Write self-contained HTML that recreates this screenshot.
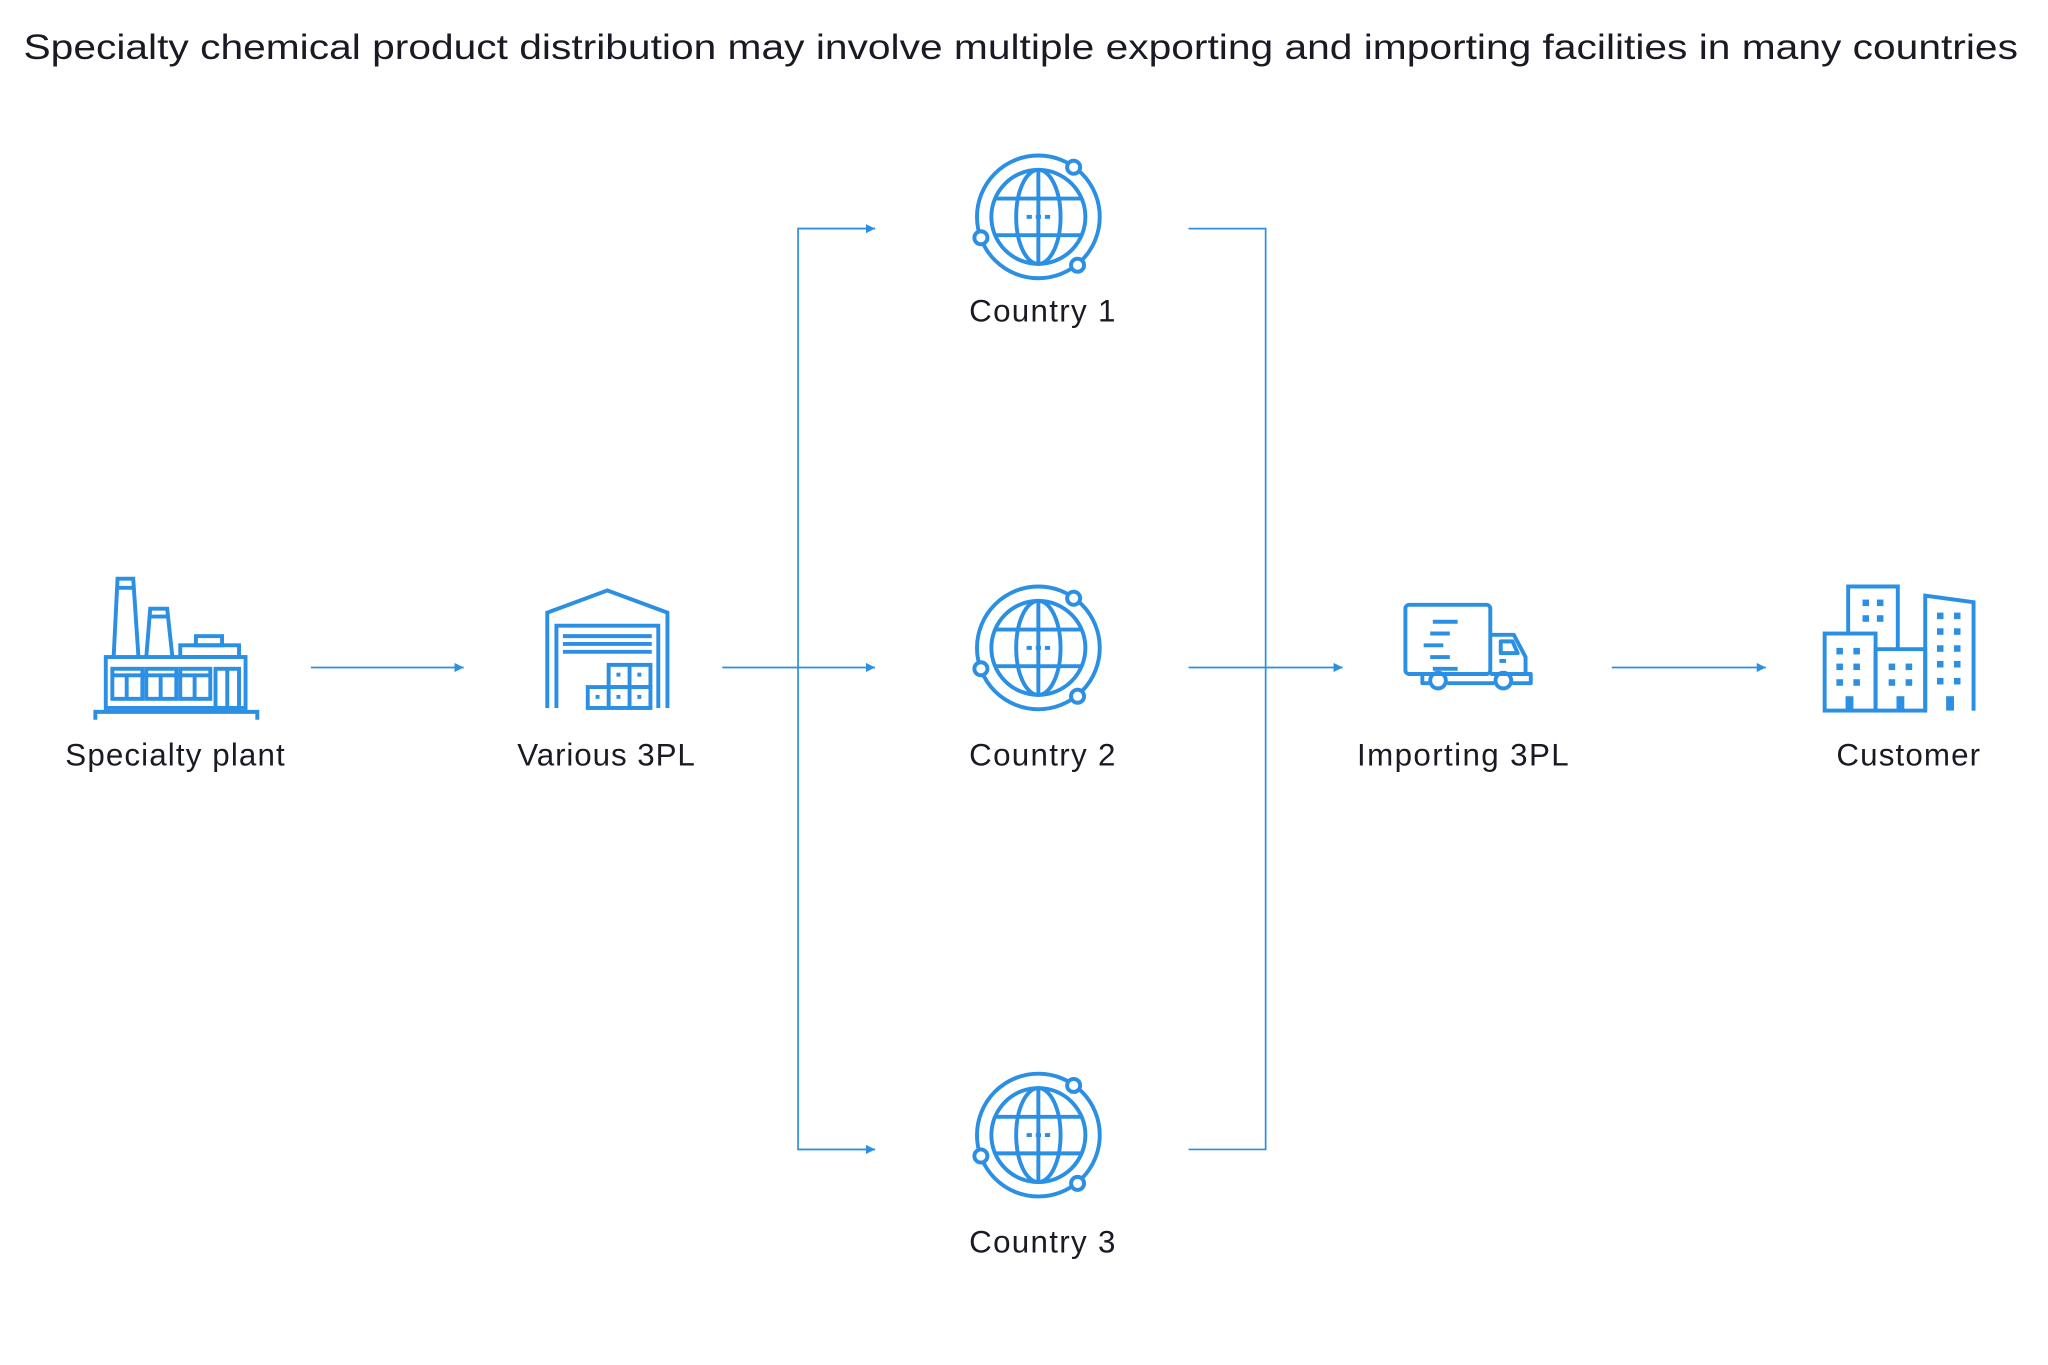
<!DOCTYPE html>
<html><head><meta charset="utf-8"><style>
html,body{margin:0;padding:0;background:#fff;}
svg{display:block;}
text{font-family:"Liberation Sans",sans-serif;fill:#1a1a24;}
</style></head><body>
<svg width="2048" height="1365" viewBox="0 0 1568 1045" xmlns="http://www.w3.org/2000/svg">
<defs>
<marker id="ah" viewBox="0 0 10 10" refX="10" refY="5" markerWidth="7" markerHeight="7" markerUnits="userSpaceOnUse" orient="auto"><path d="M0,0 L10,5 L0,10z" fill="#2b8fe3"/></marker>
<g id="globe" fill="none" stroke="#2b8fe3" stroke-width="3">
<circle r="47"/>
<circle r="36"/>
<ellipse rx="17" ry="36"/>
<line x1="0" y1="-36" x2="0" y2="36"/>
<line x1="-33" y1="-14" x2="33" y2="-14"/>
<line x1="-33" y1="14" x2="33" y2="14"/>
<line x1="-9" y1="0" x2="-5" y2="0"/><line x1="-2" y1="0" x2="2" y2="0"/><line x1="5" y1="0" x2="9" y2="0"/>
<circle cx="27" cy="-38" r="5" fill="#fff"/>
<circle cx="-44" cy="16" r="5" fill="#fff"/>
<circle cx="30" cy="37" r="5" fill="#fff"/>
</g>
</defs>

<text x="18" y="45" font-size="27" textLength="1527" lengthAdjust="spacingAndGlyphs">Specialty chemical product distribution may involve multiple exporting and importing facilities in many countries</text>

<g stroke="#2b8fe3" stroke-width="1.3" fill="none">
<line x1="238" y1="511" x2="355" y2="511" marker-end="url(#ah)"/>
<line x1="553" y1="511" x2="670" y2="511" marker-end="url(#ah)"/>
<polyline points="670,175 611,175 611,880 670,880"/>
<line x1="611" y1="175" x2="670" y2="175" marker-end="url(#ah)"/>
<line x1="611" y1="880" x2="670" y2="880" marker-end="url(#ah)"/>
<polyline points="910,175 969,175 969,880 910,880"/>
<line x1="910" y1="511" x2="1028" y2="511" marker-end="url(#ah)"/>
<line x1="1234" y1="511" x2="1352" y2="511" marker-end="url(#ah)"/>
</g>

<use href="#globe" x="795" y="166"/>
<use href="#globe" x="795" y="496"/>
<use href="#globe" x="795" y="869"/>

<!-- factory -->
<g fill="none" stroke="#2b8fe3" stroke-width="3">
<path d="M87,503 L90,443 L102,443 L106,503"/><line x1="89" y1="450" x2="103" y2="450"/>
<path d="M112,503 L115,466 L128,466 L132,503"/><line x1="114" y1="472" x2="129" y2="472"/>
<rect x="138" y="494" width="45" height="9"/><rect x="150" y="487" width="20" height="7"/>
<rect x="81" y="503" width="107" height="39"/>
<rect x="86" y="512" width="23" height="23"/><rect x="112" y="512" width="23" height="23"/><rect x="138" y="512" width="23" height="23"/>
<line x1="86" y1="517" x2="161" y2="517"/>
<line x1="97" y1="517" x2="97" y2="535"/><line x1="123" y1="517" x2="123" y2="535"/><line x1="149" y1="517" x2="149" y2="535"/>
<rect x="165" y="512" width="18" height="30"/><line x1="174" y1="512" x2="174" y2="542"/>
<path d="M73,551 L73,545 L197,545 L197,551"/>
</g>

<!-- warehouse -->
<g fill="none" stroke="#2b8fe3" stroke-width="3">
<path d="M419,542 L419,469 L465,452 L511,469 L511,542"/>
<path d="M426,542 L426,479 L504,479 L504,542"/>
<line x1="431" y1="487" x2="499" y2="487"/><line x1="431" y1="493" x2="499" y2="493"/><line x1="431" y1="499" x2="499" y2="499"/>
<rect x="466" y="509" width="32" height="17"/><line x1="482" y1="509" x2="482" y2="542"/>
<rect x="450" y="526" width="48" height="16"/><line x1="466" y1="526" x2="466" y2="542"/>
</g>
<g fill="#2b8fe3"><rect x="472" y="515" width="3" height="3"/><rect x="488" y="515" width="3" height="3"/><rect x="456" y="532" width="3" height="3"/><rect x="472" y="532" width="3" height="3"/><rect x="488" y="532" width="3" height="3"/></g>

<!-- truck -->
<g fill="none" stroke="#2b8fe3" stroke-width="3" stroke-linejoin="round">
<rect x="1076" y="463" width="65" height="53" rx="3"/>
<path d="M1141,486 L1159,486 L1168,503 L1168,516 L1141,516"/>
<path d="M1149,491 L1158,491 L1162,500 L1149,500z"/>
<line x1="1148" y1="506" x2="1153" y2="506"/>
<path d="M1089,516 L1089,523 L1094,523"/><path d="M1108,523 L1144,523"/><path d="M1158,523 L1172,523 L1172,516 L1166,516"/>
<circle cx="1101" cy="521" r="6"/><circle cx="1151" cy="521" r="6"/>
<line x1="1097" y1="476" x2="1116" y2="476"/><line x1="1095" y1="485" x2="1110" y2="485"/><line x1="1090" y1="494" x2="1105" y2="494"/><line x1="1095" y1="503" x2="1110" y2="503"/><line x1="1097" y1="512" x2="1116" y2="512"/>
</g>

<!-- buildings -->
<g fill="none" stroke="#2b8fe3" stroke-width="3">
<rect x="1397" y="485" width="39" height="59"/>
<path d="M1415,485 L1415,449 L1453,449 L1453,497"/>
<rect x="1436" y="497" width="38" height="47"/>
<path d="M1474,544 L1474,456 L1511,461 L1511,544"/>
</g>
<g fill="#2b8fe3">
<rect x="1426" y="459" width="5" height="5"/><rect x="1437" y="459" width="5" height="5"/><rect x="1426" y="471" width="5" height="5"/><rect x="1437" y="471" width="5" height="5"/>
<rect x="1406" y="496" width="5" height="5"/><rect x="1419" y="496" width="5" height="5"/><rect x="1406" y="508" width="5" height="5"/><rect x="1419" y="508" width="5" height="5"/><rect x="1406" y="520" width="5" height="5"/><rect x="1419" y="520" width="5" height="5"/>
<rect x="1446" y="508" width="5" height="5"/><rect x="1459" y="508" width="5" height="5"/><rect x="1446" y="520" width="5" height="5"/><rect x="1459" y="520" width="5" height="5"/>
<rect x="1483" y="469" width="5" height="5"/><rect x="1496" y="469" width="5" height="5"/><rect x="1483" y="481" width="5" height="5"/><rect x="1496" y="481" width="5" height="5"/><rect x="1483" y="494" width="5" height="5"/><rect x="1496" y="494" width="5" height="5"/><rect x="1483" y="506" width="5" height="5"/><rect x="1496" y="506" width="5" height="5"/><rect x="1483" y="519" width="5" height="5"/><rect x="1496" y="519" width="5" height="5"/>
<rect x="1413" y="533" width="6" height="11"/><rect x="1452" y="533" width="6" height="11"/><rect x="1490" y="533" width="6" height="11"/>
</g>

<g font-size="24" text-anchor="middle" lengthAdjust="spacingAndGlyphs">
<text x="134" y="586" textLength="168">Specialty plant</text>
<text x="464" y="586" textLength="136">Various 3PL</text>
<text x="798" y="246" textLength="112">Country 1</text>
<text x="798" y="586" textLength="112">Country 2</text>
<text x="798" y="959" textLength="112">Country 3</text>
<text x="1120" y="586" textLength="162">Importing 3PL</text>
<text x="1461" y="586" textLength="110">Customer</text>
</g>
</svg>
</body></html>
